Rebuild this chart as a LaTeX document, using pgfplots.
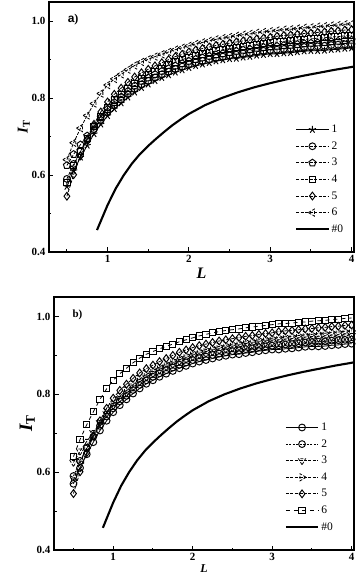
\documentclass[border=0pt]{standalone}
\usepackage{fontspec}
\setmainfont{Liberation Serif}
\newfontfamily\arialfont{Liberation Sans}
\usepackage{pgfplots}
\pgfplotsset{compat=1.18}
\usepackage{pgfplotstable}

% s1..s5 shared by both panels, s6 = top panel series 6, s6b = bottom panel series 6
\pgfplotstableread{
L     s1    s2    s3    s4    s5    s6    s6b
0.500 0.570 0.590 0.625 0.580 0.545 0.640 0.640
0.583 0.611 0.629 0.654 0.624 0.601 0.684 0.684
0.667 0.646 0.662 0.679 0.662 0.650 0.722 0.722
0.750 0.677 0.691 0.702 0.695 0.693 0.755 0.755
0.833 0.707 0.719 0.727 0.726 0.732 0.786 0.787
0.917 0.732 0.743 0.750 0.753 0.764 0.812 0.814
1.000 0.754 0.764 0.771 0.776 0.790 0.834 0.836
1.083 0.772 0.782 0.789 0.795 0.810 0.850 0.853
1.167 0.787 0.796 0.803 0.810 0.826 0.862 0.867
1.250 0.802 0.811 0.818 0.825 0.841 0.874 0.881
1.333 0.815 0.824 0.832 0.839 0.855 0.885 0.893
1.417 0.827 0.836 0.844 0.851 0.866 0.894 0.903
1.500 0.836 0.845 0.853 0.861 0.875 0.901 0.910
1.583 0.845 0.854 0.862 0.870 0.884 0.908 0.917
1.667 0.853 0.862 0.870 0.878 0.892 0.914 0.923
1.750 0.860 0.869 0.877 0.886 0.900 0.920 0.929
1.833 0.867 0.876 0.884 0.894 0.908 0.926 0.935
1.917 0.873 0.882 0.890 0.900 0.914 0.931 0.940
2.000 0.879 0.888 0.896 0.906 0.920 0.936 0.945
2.083 0.884 0.893 0.901 0.911 0.925 0.941 0.950
2.167 0.888 0.897 0.905 0.915 0.929 0.945 0.954
2.250 0.892 0.901 0.909 0.919 0.933 0.949 0.958
2.333 0.896 0.905 0.913 0.923 0.937 0.953 0.961
2.417 0.899 0.908 0.916 0.926 0.940 0.956 0.964
2.500 0.902 0.911 0.919 0.929 0.943 0.959 0.966
2.583 0.903 0.913 0.922 0.932 0.946 0.962 0.968
2.667 0.906 0.916 0.925 0.935 0.949 0.965 0.971
2.750 0.908 0.918 0.927 0.937 0.951 0.967 0.973
2.833 0.911 0.921 0.930 0.940 0.954 0.970 0.975
2.917 0.913 0.923 0.932 0.942 0.956 0.972 0.977
3.000 0.915 0.925 0.934 0.944 0.958 0.974 0.979
3.083 0.915 0.926 0.935 0.946 0.961 0.976 0.981
3.167 0.917 0.928 0.937 0.948 0.963 0.978 0.982
3.250 0.918 0.929 0.938 0.949 0.964 0.979 0.983
3.333 0.920 0.931 0.940 0.951 0.966 0.981 0.985
3.417 0.922 0.933 0.942 0.953 0.968 0.983 0.986
3.500 0.923 0.934 0.943 0.954 0.969 0.984 0.988
3.583 0.923 0.935 0.944 0.956 0.971 0.986 0.989
3.667 0.924 0.936 0.945 0.957 0.972 0.987 0.990
3.750 0.926 0.938 0.947 0.959 0.974 0.989 0.992
3.833 0.927 0.939 0.948 0.960 0.975 0.990 0.993
3.917 0.929 0.940 0.950 0.962 0.977 0.992 0.995
4.000 0.930 0.941 0.951 0.963 0.978 0.993 0.996
}\datatab

% curve #0
\pgfplotstableread{
L    I
0.87 0.457
0.95 0.497
1.00 0.522
1.10 0.565
1.20 0.600
1.30 0.630
1.40 0.655
1.50 0.676
1.60 0.695
1.70 0.713
1.80 0.730
1.90 0.745
2.00 0.759
2.20 0.782
2.40 0.800
2.60 0.815
2.80 0.828
3.00 0.839
3.20 0.849
3.40 0.858
3.60 0.866
3.80 0.874
4.00 0.881
4.05 0.883
}\zerotab

\pgfplotsset{
  panel/.style={
    scale only axis,
    ymin=0.4, ymax=1.05,
    xtick={1,2,3,4}, ytick={0.4,0.6,0.8,1.0},
    minor xtick={0.5,1.5,2.5,3.5}, minor ytick={0.5,0.7,0.9},
    tick align=inside, xtick pos=bottom, ytick pos=left,
    major tick length=4.5pt, minor tick length=2.5pt,
    axis line style={line width=1.1pt},
    every tick/.style={black, line width=0.9pt},
    tick label style={font=\bfseries\fontsize{11}{12}\selectfont},
    /pgf/number format/assume math mode=true,
    y tick label style={/pgf/number format/fixed, /pgf/number format/fixed zerofill, /pgf/number format/precision=1},
    legend style={draw=none, fill=none, font=\fontsize{11.5}{12}\selectfont,
      legend cell align=left, row sep=3.5pt, inner sep=1pt},
    legend image code/.code={\draw[mark repeat=2,mark phase=2] plot coordinates {(0cm,0cm) (0.57cm,0cm) (1.14cm,0cm)};},
  },
  ser/.style={black, line width=0.8pt, mark options={solid, fill=white, line width=0.95pt}, mark size=3.4pt},
  dsh/.style={dash pattern=on 3pt off 1.5pt},
}

\begin{document}
\begin{tikzpicture}
\path[use as bounding box] (0,0) rectangle (356pt,581pt);

% panel a
\begin{axis}[panel, at={(49pt,329pt)}, anchor=south west, width=305pt, height=250pt,
  xmin=0.28, xmax=4.03,
  xlabel={\bfseries\itshape L}, xlabel style={font=\fontsize{16}{16}\selectfont, yshift=2pt},
  ylabel={\bfseries\itshape I\textsubscript{\upshape T}}, ylabel style={font=\fontsize{15}{15}\selectfont, yshift=-5pt},
  legend style={at={(0.975,0.06)}, anchor=south east}]
\addplot[ser, mark=star, mark size=3.7pt] table[x=L, y=s1] {\datatab};
\addplot[ser, dsh, mark=o] table[x=L, y=s2] {\datatab};
\addplot[ser, dsh, mark=pentagon, mark size=3.7pt] table[x=L, y=s3] {\datatab};
\addplot[ser, dsh, mark=square, mark size=3.1pt] table[x=L, y=s4] {\datatab};
\addplot[ser, dsh, mark=diamond, mark size=3.9pt] table[x=L, y=s5] {\datatab};
\addplot[ser, dsh, mark=triangle, mark options={rotate=90}, mark size=4.1pt] table[x=L, y=s6] {\datatab};
\addplot[black, line width=2.1pt] table[x=L, y=I] {\zerotab};
\legend{1,2,3,4,5,6,\#0}
\node[anchor=west, font=\bfseries\fontsize{12}{12}\selectfont] at (axis description cs:0.05,0.93) {{\arialfont a})};
\end{axis}

% panel b
\begin{axis}[panel, at={(54pt,31pt)}, anchor=south west, width=300pt, height=253pt,
  xmin=0.255, xmax=4.03,
  xlabel={\bfseries\itshape L}, xlabel style={font=\fontsize{12}{12}\selectfont, yshift=3pt},
  ylabel={\bfseries\itshape I\textsubscript{\upshape T}}, ylabel style={font=\fontsize{19}{19}\selectfont, yshift=-5pt},
  legend style={at={(0.94,0.06)}, anchor=south east}]
\addplot[ser, mark=o] table[x=L, y=s1] {\datatab};
\addplot[ser, dash pattern=on 2pt off 1.5pt, mark=o] table[x=L, y=s2] {\datatab};
\addplot[ser, dsh, mark=triangle, mark options={rotate=180}, mark size=4.1pt] table[x=L, y=s3] {\datatab};
\addplot[ser, dsh, mark=triangle, mark options={rotate=-90}, mark size=4.1pt] table[x=L, y=s4] {\datatab};
\addplot[ser, dsh, mark=diamond, mark size=3.9pt] table[x=L, y=s5] {\datatab};
\addplot[ser, dash pattern=on 4pt off 4pt, mark=square, mark size=3.1pt] table[x=L, y=s6b] {\datatab};
\addplot[black, line width=2.1pt] table[x=L, y=I] {\zerotab};
\legend{1,2,3,4,5,6,\#0}
\node[anchor=west, font=\bfseries\fontsize{11}{11}\selectfont] at (axis description cs:0.05,0.93) {b)};
\end{axis}
\end{tikzpicture}
\end{document}
